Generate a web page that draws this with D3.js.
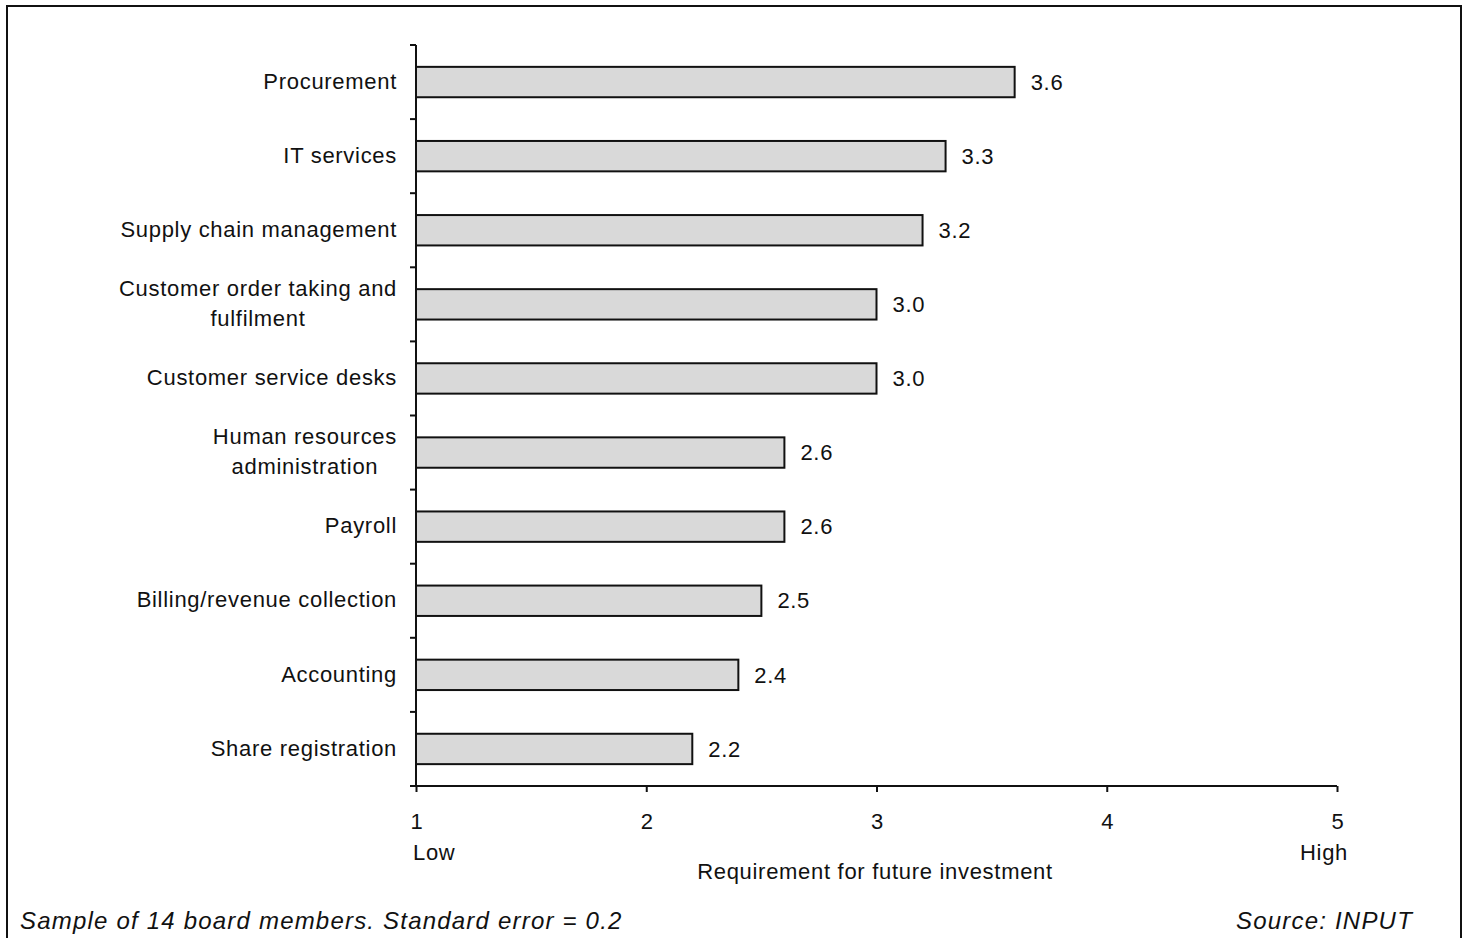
<!DOCTYPE html>
<html>
<head>
<meta charset="utf-8">
<script src="https://cdn.jsdelivr.net/npm/d3@7"></script>
<style>
  html, body { margin: 0; padding: 0; background: #fff; }
  svg { display: block; font-family: "Liberation Sans", Arial, sans-serif; }
</style>
</head>
<body>
<svg id="chart" width="1463" height="938"></svg>
<script>
// Business functions, each split into display lines
const categories = [
  ["Procurement"],
  ["IT services"],
  ["Supply chain management"],
  ["Customer order taking and", "fulfilment"],
  ["Customer service desks"],
  ["Human resources", "administration"],
  ["Payroll"],
  ["Billing/revenue collection"],
  ["Accounting"],
  ["Share registration"]
];
const values = [3.6, 3.3, 3.2, 3.0, 3.0, 2.6, 2.6, 2.5, 2.4, 2.2];
const xTicks = [1, 2, 3, 4, 5];
const scaleEnds = ["Low", "High"];
const axisTitle = "Requirement for future investment";
const footnote = "Sample of 14 board members. Standard error = 0.2";
const sourceNote = "Source: INPUT";

(function () {
const svg = d3.select("#chart");
const plotLeft = 416, plotRight = 1337, plotTop = 45, plotBottom = 786;
const fs = 22, ls = 0.7;

// Outer frame (open at the bottom)
svg.append("path")
  .attr("d", "M7,938 V6 H1461 V938")
  .attr("fill", "none").attr("stroke", "#111").attr("stroke-width", 2);

const x = d3.scaleLinear().domain([1, 5]).range([plotLeft, plotRight]);
const y = d3.scaleBand().domain(d3.range(categories.length)).range([plotTop, plotBottom])
  .paddingInner(0.59).paddingOuter(0.295);

// Bars
svg.append("g").selectAll("rect").data(values).join("rect")
  .attr("x", x(1))
  .attr("y", (d, i) => y(i))
  .attr("width", d => x(d) - x(1))
  .attr("height", y.bandwidth())
  .attr("fill", "#d9d9d9")
  .attr("stroke", "#111")
  .attr("stroke-width", 2);

// Value labels
svg.append("g").selectAll("text").data(values).join("text")
  .attr("x", d => x(d) + 16)
  .attr("y", (d, i) => y(i) + y.bandwidth() / 2)
  .attr("dy", "0.35em")
  .attr("font-size", fs)
  .attr("letter-spacing", ls)
  .attr("fill", "#111")
  .text(d => d.toFixed(1));

// Category axis line with ticks on band boundaries
const bandStep = (plotBottom - plotTop) / categories.length;
svg.append("line")
  .attr("x1", plotLeft).attr("x2", plotLeft).attr("y1", plotTop).attr("y2", plotBottom)
  .attr("stroke", "#111").attr("stroke-width", 2);
svg.append("g").selectAll("line").data(d3.range(categories.length + 1)).join("line")
  .attr("x1", plotLeft - 6).attr("x2", plotLeft)
  .attr("y1", i => plotTop + i * bandStep).attr("y2", i => plotTop + i * bandStep)
  .attr("stroke", "#111").attr("stroke-width", 2);

// Category labels (centered block, right edge near the axis)
const labelX = 397;
const lab = svg.append("g").selectAll("g").data(categories).join("g")
  .attr("transform", (d, i) => `translate(0,${y(i) + y.bandwidth() / 2})`);
lab.each(function (lines) {
  const g = d3.select(this);
  const lh = 30;
  const t = g.append("text").attr("font-size", fs).attr("letter-spacing", ls).attr("fill", "#111");
  lines.forEach((ln, k) => {
    t.append("tspan").attr("y", (k - (lines.length - 1) / 2) * lh - 1).attr("dy", "0.35em").text(ln);
  });
  const spans = t.selectAll("tspan").nodes();
  const maxW = d3.max(spans.map(s => s.getComputedTextLength()));
  spans.forEach(s => {
    d3.select(s).attr("x", labelX - maxW / 2).attr("text-anchor", "middle");
  });
});

// Value axis
const xAxis = d3.axisBottom(x).tickValues(xTicks).tickSize(6).tickPadding(21)
  .tickFormat(d3.format("d"));
const gx = svg.append("g").attr("transform", `translate(0,${plotBottom})`).call(xAxis);
gx.select(".domain").attr("stroke", "#111").attr("stroke-width", 2)
  .attr("d", `M${plotLeft},0H${plotRight}`);
gx.selectAll(".tick line").attr("stroke", "#111").attr("stroke-width", 2);
gx.selectAll(".tick text").attr("font-size", fs).attr("fill", "#111")
  .attr("font-family", "Liberation Sans, Arial, sans-serif");

// Scale end labels
svg.append("text").attr("x", x(1) - 3).attr("y", 860).attr("font-size", fs).attr("letter-spacing", ls)
  .attr("fill", "#111").text(scaleEnds[0]);
svg.append("text").attr("x", x(5) + 11).attr("y", 860).attr("font-size", fs).attr("letter-spacing", ls)
  .attr("fill", "#111").attr("text-anchor", "end").text(scaleEnds[1]);

// Axis title
svg.append("text").attr("x", 875).attr("y", 879).attr("font-size", fs).attr("letter-spacing", ls)
  .attr("fill", "#111").attr("text-anchor", "middle").text(axisTitle);

// Footnotes
svg.append("text").attr("x", 20).attr("y", 929).attr("font-size", 24).attr("letter-spacing", 1.2)
  .attr("font-style", "italic").attr("fill", "#111").text(footnote);
svg.append("text").attr("x", 1413).attr("y", 929).attr("font-size", 24).attr("letter-spacing", 1.2)
  .attr("font-style", "italic").attr("fill", "#111").attr("text-anchor", "end").text(sourceNote);
})();
</script>
</body>
</html>
